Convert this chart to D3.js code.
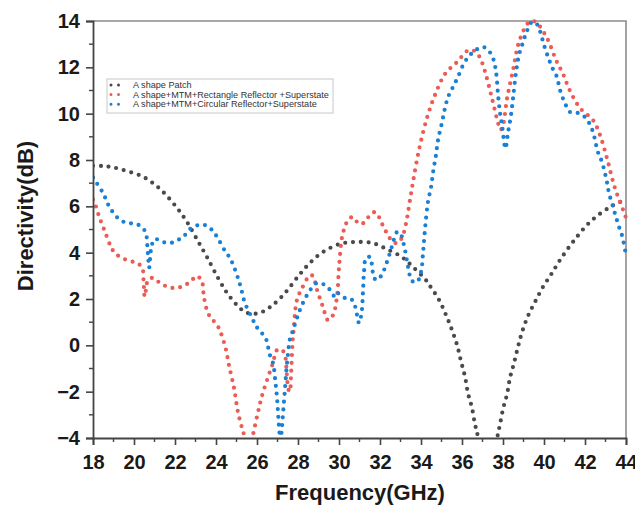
<!DOCTYPE html>
<html><head><meta charset="utf-8">
<script src="https://cdn.jsdelivr.net/npm/d3@7"></script>
<style>body{margin:0;background:#fff}svg{display:block;font-family:"Liberation Sans",Arial,sans-serif}</style>
</head><body><svg id="c" width="635" height="510"></svg>
<script>
const seriesNames = ["A shape  Patch","A shape+MTM+Rectangle Reflector +Superstate","A shape+MTM+Circular Reflector+Superstate"];
const seriesColors = ["#4a4a4a","#ec5b54","#1a80d6"];
const xTicks = [18,20,22,24,26,28,30,32,34,36,38,40,42,44];
const yTicks = [-4,-2,0,2,4,6,8,10,12,14];

const patchF = [18.0,18.5,19.0,19.66,20.39,21.0,21.5,22.1,22.59,23.17,23.56,24.1,24.54,25.02,25.4,25.8,26.2,26.49,26.78,27.37,28.1,28.63,29.22,30.05,30.78,31.61,32.34,33.07,33.61,34.2,34.44,34.88,35.22,35.51,35.76,35.95,36.15,36.29,36.49,36.63,36.73,36.9,37.3,37.65,37.76,37.85,38.0,38.2,38.34,38.54,38.73,38.93,39.22,39.56,39.95,40.39,40.78,41.41,42.24,43.22,44.0];
const patchV = [7.75,7.74,7.68,7.52,7.3,6.95,6.55,5.93,5.32,4.42,3.81,2.91,2.26,1.74,1.45,1.36,1.42,1.57,1.74,2.26,3.08,3.6,4.03,4.38,4.46,4.42,4.15,3.81,3.38,2.86,2.56,1.96,1.31,0.66,0.01,-0.68,-1.37,-2.06,-2.71,-3.4,-3.74,-4.6,-6,-4.5,-3.78,-3.44,-2.75,-2.1,-1.41,-0.76,-0.07,0.57,1.27,1.87,2.52,3.12,3.68,4.46,5.32,5.97,6.3];

const rectF = [18.0,18.05,18.29,18.59,18.88,19.07,19.41,19.8,20.15,20.4,20.47,20.52,20.6,20.68,20.93,21.27,21.66,22.05,22.39,22.73,23.07,23.32,23.41,23.61,23.8,24.05,24.24,24.49,24.63,24.88,25.07,25.27,25.37,25.58,25.8,26.05,26.24,26.54,26.78,26.98,27.22,27.37,27.45,27.53,27.6,27.66,27.7,27.74,27.79,27.95,28.2,28.59,28.73,28.93,29.22,29.46,29.71,29.9,30.0,30.15,30.29,30.44,30.68,30.98,31.27,31.51,31.76,31.95,32.15,32.39,32.63,32.88,33.12,33.3,33.45,33.61,33.9,34.29,34.68,35.17,35.76,36.34,36.68,36.93,37.17,37.46,37.76,37.88,38.0,38.2,38.49,38.78,39.22,39.45,39.66,40.15,40.59,40.93,41.27,41.76,42.39,42.73,43.07,43.46,43.9,44.0];
const rectV = [6.3,6.23,5.58,4.89,4.24,3.98,3.77,3.64,3.55,3.35,2.7,2.1,2.5,2.82,2.91,2.69,2.52,2.47,2.56,2.73,2.99,2.73,2.09,1.39,1.14,0.88,0.53,-0.2,-0.85,-1.84,-2.88,-3.57,-3.87,-4.6,-3.87,-2.88,-2.19,-1.37,-0.76,-0.2,-0.2,-0.45,-1.2,-1.9,-2.0,-1.3,-0.5,0.2,0.7,1.96,2.47,3.03,2.99,2.39,1.65,1.09,1.31,2.09,3.34,4.68,5.11,5.41,5.54,5.24,5.32,5.63,5.75,5.54,5.15,4.76,4.46,4.42,4.76,5.4,6.2,7.05,8.43,9.81,10.8,11.71,12.23,12.75,12.66,12.31,11.67,10.67,9.6,9.3,9.51,10.67,11.88,13.09,13.91,14.0,13.91,13.26,12.31,11.71,10.98,10.24,9.72,9.08,8.08,6.79,5.75,5.5];

const circF = [18.0,18.05,18.49,18.83,19.32,19.71,20.1,20.44,20.6,20.65,20.7,20.74,20.8,20.86,21.02,21.41,21.8,22.15,22.44,22.73,23.12,23.46,23.8,24.05,24.44,24.68,24.88,25.07,25.22,25.41,25.76,25.95,26.2,26.44,26.54,26.63,26.78,26.9,26.98,27.04,27.1,27.15,27.22,27.3,27.38,27.45,27.52,27.6,27.76,27.95,28.24,28.63,28.93,29.32,29.61,29.8,29.9,30.29,30.59,30.78,30.98,31.1,31.17,31.22,31.32,31.51,31.66,31.8,32.05,32.34,32.59,32.83,32.98,33.22,33.37,33.56,33.8,34.0,34.1,34.2,34.34,34.49,34.59,34.73,34.83,35.02,35.17,35.32,35.56,35.8,36.1,36.39,36.68,37.02,37.27,37.51,37.66,37.76,37.85,37.95,38.12,38.24,38.39,38.49,38.63,38.78,38.98,39.17,39.41,39.61,39.8,40.0,40.2,40.39,40.63,40.78,41.02,41.27,41.66,42.0,42.2,42.39,42.63,42.83,43.07,43.17,43.37,43.51,43.66,43.8,44.0];
const circV = [7.25,7.18,6.57,5.93,5.41,5.28,5.24,5.06,4.75,4.3,3.7,3.35,3.9,4.3,4.59,4.46,4.42,4.55,4.72,5.02,5.19,5.19,4.98,4.68,4.07,3.77,3.38,2.91,2.47,1.83,1.18,0.83,0.57,0.27,-0.07,-0.42,-0.76,-1.6,-2.3,-3.1,-3.8,-4.1,-3.5,-2.6,-1.7,-0.9,-0.3,0.25,0.66,1.18,1.83,2.43,2.69,2.6,2.34,2.09,2.26,2.04,2.0,1.7,0.96,1.39,2.3,3.16,3.77,3.81,3.12,2.82,2.99,3.6,4.29,4.89,4.85,4.11,3.38,2.78,2.73,3.16,4.0,5.06,6.19,6.83,7.48,8.21,8.86,9.6,10.24,10.72,11.15,11.58,12.18,12.53,12.75,12.88,12.75,12.4,11.8,10.8,10.07,9.51,8.5,9.16,9.94,10.67,11.75,12.53,13.09,13.57,13.95,13.91,13.57,12.96,12.44,12.01,11.58,11.02,10.46,10.07,10.03,9.85,9.6,9.21,8.34,7.91,7.05,6.57,5.97,5.54,5.11,4.76,3.9];

const svg = d3.select("#c");
const L = 93, R = 626, T = 21, B = 438;
const x = d3.scaleLinear().domain([18,44]).range([L,R]);
const y = d3.scaleLinear().domain([-4,14]).range([B,T]);

svg.append("defs").append("clipPath").attr("id","clip")
  .append("rect").attr("x",L).attr("y",T-3).attr("width",R-L+3).attr("height",B-T+3);

// frame top/right
svg.append("path").attr("d",`M${L},${T}H${R}V${B}`).attr("fill","none").attr("stroke","#8c8c8c").attr("stroke-width",1.6);

// data
const series = [[patchF,patchV],[rectF,rectV],[circF,circV]];
const line = d3.line().x(d=>x(d[0])).y(d=>y(d[1])).curve(d3.curveCatmullRom.alpha(0.5));
const g = svg.append("g").attr("clip-path","url(#clip)");
series.forEach((s,i)=>{
  const pts = s[0].map((f,k)=>[f,s[1][k]]);
  g.append("path").attr("d",line(pts)).attr("fill","none")
   .attr("stroke",seriesColors[i]).attr("stroke-width",4.2)
   .attr("stroke-linecap","round").attr("stroke-dasharray","0,7.8");
});

// axes
const xAx = svg.append("g").attr("transform",`translate(0,${B})`)
  .call(d3.axisBottom(x).tickValues(xTicks).tickSize(7).tickPadding(6).tickFormat(d3.format("d")));
const yAx = svg.append("g").attr("transform",`translate(${L},0)`)
  .call(d3.axisLeft(y).tickValues(yTicks).tickSize(7).tickPadding(6).tickFormat(d3.format("d")));
[xAx,yAx].forEach(a=>{
  a.select(".domain").attr("stroke","#444").attr("stroke-width",1.8);
  a.selectAll(".tick line").attr("stroke","#444").attr("stroke-width",1.6);
  a.selectAll(".tick text").attr("font-size",20).attr("font-weight","bold").attr("fill","#1a1a1a")
   .attr("font-family","'Liberation Sans',Arial,sans-serif");
});
xAx.selectAll(".tick text").attr("dy","0.9em");
// minor ticks
const xMinor = d3.range(19,44,2), yMinor = d3.range(-3,14,2);
svg.append("g").selectAll("line").data(xMinor).join("line")
  .attr("x1",d=>x(d)).attr("x2",d=>x(d)).attr("y1",B).attr("y2",B+4).attr("stroke","#444").attr("stroke-width",1.4);
svg.append("g").selectAll("line").data(yMinor).join("line")
  .attr("y1",d=>y(d)).attr("y2",d=>y(d)).attr("x1",L).attr("x2",L-4).attr("stroke","#444").attr("stroke-width",1.4);

// axis titles
svg.append("text").attr("x",360).attr("y",500).attr("text-anchor","middle")
  .attr("font-size",22).attr("font-weight","bold").attr("fill","#1a1a1a").text("Frequency(GHz)");
svg.append("text").attr("transform","translate(33,216) rotate(-90)").attr("text-anchor","middle")
  .attr("font-size",22).attr("font-weight","bold").attr("fill","#1a1a1a").text("Directivity(dB)");

// legend
const lg = svg.append("g");
lg.append("rect").attr("x",107).attr("y",79).attr("width",226).attr("height",34)
  .attr("fill","#fff").attr("stroke","#c8c8c8").attr("stroke-width",1);
seriesNames.forEach((n,i)=>{
  const yy = 85 + i*9.6;
  lg.append("path").attr("d",`M${111},${yy}H${126}`).attr("stroke",seriesColors[i])
    .attr("stroke-width",3).attr("stroke-linecap","round").attr("stroke-dasharray","0,7.5");
  lg.append("text").attr("x",133).attr("y",yy+3).attr("font-size",9.1).attr("fill","#333").text(n);
});
</script></body></html>
